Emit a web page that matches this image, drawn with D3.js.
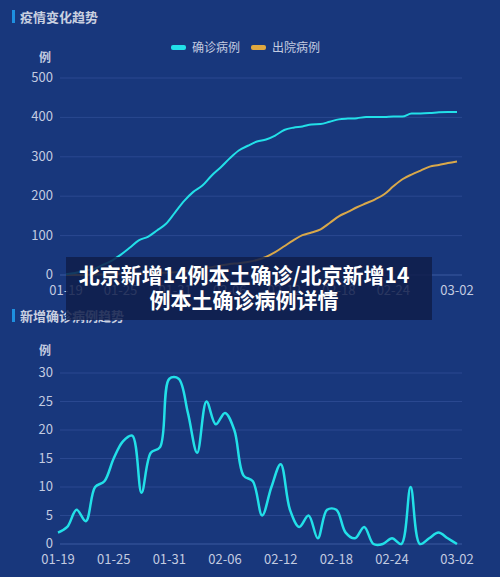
<!DOCTYPE html>
<html><head><meta charset="utf-8">
<script src="https://cdn.jsdelivr.net/npm/d3@7"></script>
<style>body{margin:0;background:#18377c;}svg{display:block;font-family:"Noto Sans CJK SC","Noto Sans",sans-serif;}</style>
</head><body>
<script>
const dates = ["01-19","01-20","01-21","01-22","01-23","01-24","01-25","01-26","01-27","01-28","01-29","01-30","01-31","02-01","02-02","02-03","02-04","02-05","02-06","02-07","02-08","02-09","02-10","02-11","02-12","02-13","02-14","02-15","02-16","02-17","02-18","02-19","02-20","02-21","02-22","02-23","02-24","02-25","02-26","02-27","02-28","02-29","03-01","03-02"];
const tickDates = ["01-19","01-25","01-31","02-06","02-12","02-18","02-24","03-02"];
const confirmed = [2,5,11,15,25,36,51,69,88,97,113,130,159,188,211,227,252,273,296,316,328,339,344,354,368,374,377,382,383,389,395,397,398,401,401,401,402,402,410,410,411,413,414,414];
const discharged = [0,0,0,1,1,2,3,3,4,5,5,6,7,9,12,16,20,24,28,30,33,38,46,58,73,88,101,108,116,132,149,160,172,182,192,205,225,243,255,265,275,279,284,288];
const daily = [2,3,6,4,10,11,15,18,19,9,16,17,29,29,23,16,25,21,23,20,12,11,5,10,14,6,3,5,1,6,6,2,1,3,0,0,1,0,10,0,1,2,1,0];
const topTicks = [0,100,200,300,400,500];
const botTicks = [0,5,10,15,20,25,30];

const W=500,H=577;
const svg=d3.select("body").append("svg").attr("width",W).attr("height",H);
svg.append("rect").attr("width",W).attr("height",H).attr("fill","#18377c");
const txt="#c3cbe0", grid="#2a4890";

function panel(xr,y0,y1,yMax,ticks,title,titleY,unitY){
  svg.append("rect").attr("x",12).attr("y",titleY-12).attr("width",3).attr("height",13).attr("fill","#1e90e0");
  svg.append("text").attr("x",20).attr("y",titleY).attr("fill","#c9d0e0").attr("font-size",13).attr("font-weight","bold").text(title);
  const x=d3.scalePoint().domain(dates).range(xr);
  const y=d3.scaleLinear().domain([0,yMax]).range([y1,y0]);
  svg.append("text").attr("x",45).attr("y",unitY).attr("text-anchor","middle").attr("fill",txt).attr("font-size",12).attr("font-weight","bold").text("例");
  const g=svg.append("g");
  ticks.forEach(t=>{
    g.append("line").attr("x1",60).attr("x2",462).attr("y1",y(t)).attr("y2",y(t)).attr("stroke",t===0?"#3b5aa0":grid).attr("stroke-width",1);
    g.append("text").attr("x",53).attr("y",y(t)+4).attr("text-anchor","end").attr("fill",txt).attr("font-size",13).text(t);
  });
  tickDates.forEach(d=>{
    g.append("text").attr("x",x(d)).attr("y",y1+20).attr("text-anchor","middle").attr("fill",txt).attr("font-size",13).text(d);
  });
  return {x,y};
}

const A=panel([66,457],78,275,500,topTicks,"疫情变化趋势",22,62);
const lineA=d3.line().x((d,i)=>A.x(dates[i])).y(d=>A.y(d)).curve(d3.curveMonotoneX);
svg.append("path").datum(discharged).attr("d",lineA).attr("fill","none").attr("stroke","#d9a84a").attr("stroke-width",2);
svg.append("path").datum(confirmed).attr("d",lineA).attr("fill","none").attr("stroke","#22e0e8").attr("stroke-width",2);
svg.append("rect").attr("x",171).attr("y",45).attr("width",15).attr("height",5).attr("rx",2).attr("fill","#22e0e8");
svg.append("text").attr("x",192).attr("y",52).attr("fill",txt).attr("font-size",12).text("确诊病例");
svg.append("rect").attr("x",251).attr("y",45).attr("width",15).attr("height",5).attr("rx",2).attr("fill","#e0a840");
svg.append("text").attr("x",272).attr("y",52).attr("fill",txt).attr("font-size",12).text("出院病例");

const B=panel([58,457],373,544,30,botTicks,"新增确诊病例趋势",321,355);
const lineB=d3.line().x((d,i)=>B.x(dates[i])).y(d=>B.y(d)).curve(d3.curveCatmullRom.alpha(0.5));
svg.append("path").datum(daily).attr("d",lineB).attr("fill","none").attr("stroke","#22e0e8").attr("stroke-width",2.5);

svg.append("rect").attr("x",66).attr("y",257).attr("width",366).attr("height",63).attr("fill","#0f1d4a").attr("opacity",0.85);
svg.append("text").attr("x",244).attr("y",283).attr("text-anchor","middle").attr("fill","#fff").attr("font-size",21).attr("font-weight","bold").text("北京新增14例本土确诊/北京新增14");
svg.append("text").attr("x",244).attr("y",308).attr("text-anchor","middle").attr("fill","#fff").attr("font-size",21).attr("font-weight","bold").text("例本土确诊病例详情");
</script>
</body></html>
